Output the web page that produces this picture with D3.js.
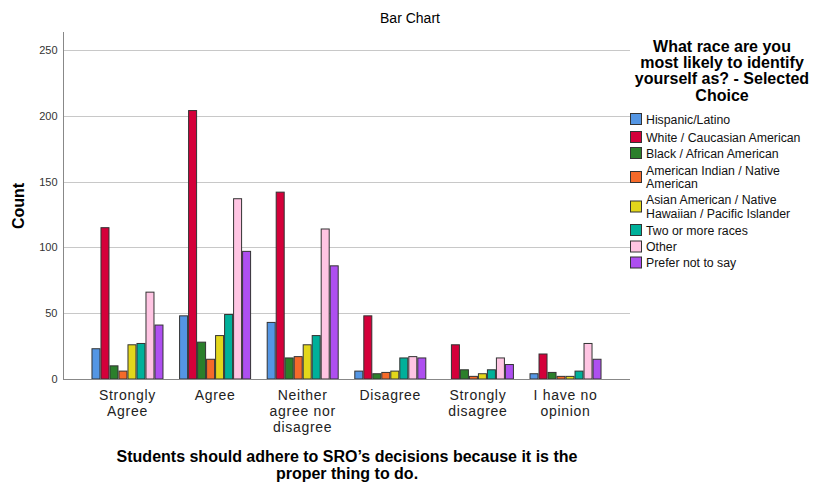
<!DOCTYPE html>
<html>
<head>
<meta charset="utf-8">
<script src="https://cdn.jsdelivr.net/npm/d3@7/dist/d3.min.js"></script>
<style>
  html, body { margin: 0; padding: 0; background: #fff; }
  svg { display: block; font-family: "Liberation Sans", Arial, sans-serif; }
</style>
</head>
<body>
<svg id="chart" width="816" height="483"></svg>
<script>
const categories = [["Strongly", "Agree"], ["Agree"], ["Neither", "agree nor", "disagree"], ["Disagree"], ["Strongly", "disagree"], ["I have no", "opinion"]];
const seriesNames = [["Hispanic/Latino"], ["White / Caucasian American"], ["Black / African American"], ["American Indian / Native", "American"], ["Asian American / Native", "Hawaiian / Pacific Islander"], ["Two or more races"], ["Other"], ["Prefer not to say"]];
const seriesColors = ["#5496e4", "#d4003a", "#2b7f2b", "#f56a2a", "#e3d71b", "#00b09a", "#ffc5e3", "#ae4ff0"];
// values per series, in category order
const hispanic = [23, 48, 43, 6, 0, 4];
const white    = [115, 204, 142, 48, 26, 19];
const black    = [10, 28, 16, 4, 7, 5];
const amIndian = [6, 15, 17, 5, 2, 2];
const asian    = [26, 33, 26, 6, 4, 2];
const twoMore  = [27, 49, 33, 16, 7, 6];
const other    = [66, 137, 114, 17, 16, 27];
const noSay    = [41, 97, 86, 16, 11, 15];
const series = [hispanic, white, black, amIndian, asian, twoMore, other, noSay];
const yTicks = [0, 50, 100, 150, 200, 250];
const chartTitle = "Bar Chart";
const yTitle = "Count";
const xTitle = ["Students should adhere to SRO\u2019s decisions because it is the", "proper thing to do."];
const legendTitle = ["What race are you", "most likely to identify", "yourself as? - Selected", "Choice"];

(function () {
const svg = d3.select("#chart");
const pLeft = 63, pRight = 630, pTop = 32, pBottom = 379;

const x0 = d3.scaleBand().domain(d3.range(categories.length)).range([pLeft, pRight]).paddingInner(0).paddingOuter(0.236);
const groupW = 72;
const x1 = d3.scaleBand().domain(d3.range(series.length)).range([0, groupW]);
const y = d3.scaleLinear().domain([0, 263.7]).range([pBottom, pTop]);

// gridlines
svg.append("g").selectAll("line").data(yTicks.filter(d => d > 0)).join("line")
  .attr("x1", pLeft).attr("x2", pRight)
  .attr("y1", d => Math.round(y(d)) + 0.5).attr("y2", d => Math.round(y(d)) + 0.5)
  .attr("stroke", "#c8c8c8").attr("stroke-width", 1);

// y axis
const yAxis = d3.axisLeft(y).tickValues(yTicks).tickSize(0).tickPadding(6);
const gy = svg.append("g").attr("transform", `translate(${pLeft + 0.5},0)`).call(yAxis);
gy.select(".domain").remove();
gy.selectAll("text").attr("font-size", 11).attr("fill", "#333").attr("font-family", "Liberation Sans, Arial, sans-serif");

// bars
const bars = svg.append("g");
series.forEach((vals, si) => {
  bars.selectAll(null).data(vals).join("rect")
    .attr("x", (d, ci) => x0(ci) + (x0.bandwidth() - groupW) / 2 + x1(si) + 0.5)
    .attr("y", d => y(d))
    .attr("width", x1.bandwidth() - 1)
    .attr("height", d => Math.max(0, pBottom - y(d)))
    .attr("fill", seriesColors[si])
    .attr("stroke", "#333")
    .attr("stroke-width", 1)
    .attr("display", d => d > 0 ? null : "none");
});

// axis lines
svg.append("line").attr("x1", pLeft + 0.5).attr("x2", pLeft + 0.5).attr("y1", pTop).attr("y2", pBottom + 0.5).attr("stroke", "#888");
svg.append("line").attr("x1", pLeft).attr("x2", pRight).attr("y1", pBottom + 0.5).attr("y2", pBottom + 0.5).attr("stroke", "#888");

// category labels
const catG = svg.append("g");
categories.forEach((lines, ci) => {
  const cx = x0(ci) + x0.bandwidth() / 2;
  const t = catG.append("text").attr("text-anchor", "middle").attr("font-size", 14).attr("letter-spacing", "0.7px").attr("fill", "#222")
    .attr("x", cx).attr("y", 400);
  lines.forEach((l, i) => t.append("tspan").attr("x", cx).attr("dy", i === 0 ? 0 : 16).text(l));
});

// titles
svg.append("text").attr("x", 410).attr("y", 23).attr("text-anchor", "middle").attr("font-size", 14).attr("fill", "#000").text(chartTitle);
svg.append("text").attr("transform", "translate(24,206) rotate(-90)").attr("text-anchor", "middle").attr("font-size", 16).attr("font-weight", "bold").attr("fill", "#000").text(yTitle);
const xt = svg.append("text").attr("text-anchor", "middle").attr("font-size", 16).attr("font-weight", "bold").attr("fill", "#000").attr("y", 462);
xTitle.forEach((l, i) => xt.append("tspan").attr("x", 347).attr("dy", i === 0 ? 0 : 16.5).text(l));

// legend
const lt = svg.append("text").attr("text-anchor", "middle").attr("font-size", 16).attr("font-weight", "bold").attr("fill", "#000").attr("y", 52);
legendTitle.forEach((l, i) => lt.append("tspan").attr("x", 722).attr("dy", i === 0 ? 0 : 16.2).text(l));

const legendY = [119, 137, 153, 177, 206.5, 230, 246.5, 262.5];
const lineGap = 13.5;
const lg = svg.append("g");
seriesNames.forEach((lines, si) => {
  const cy = legendY[si];
  lg.append("rect").attr("x", 630.5).attr("y", cy - 5.5).attr("width", 11).attr("height", 11)
    .attr("fill", seriesColors[si]).attr("stroke", "#333");
  const n = lines.length;
  lines.forEach((l, i) => {
    lg.append("text").attr("font-size", 12.3).attr("fill", "#111").attr("x", 646)
      .attr("y", cy + 4.5 - (n - 1) * lineGap / 2 + i * lineGap).text(l);
  });
});
})();
</script>
</body>
</html>
